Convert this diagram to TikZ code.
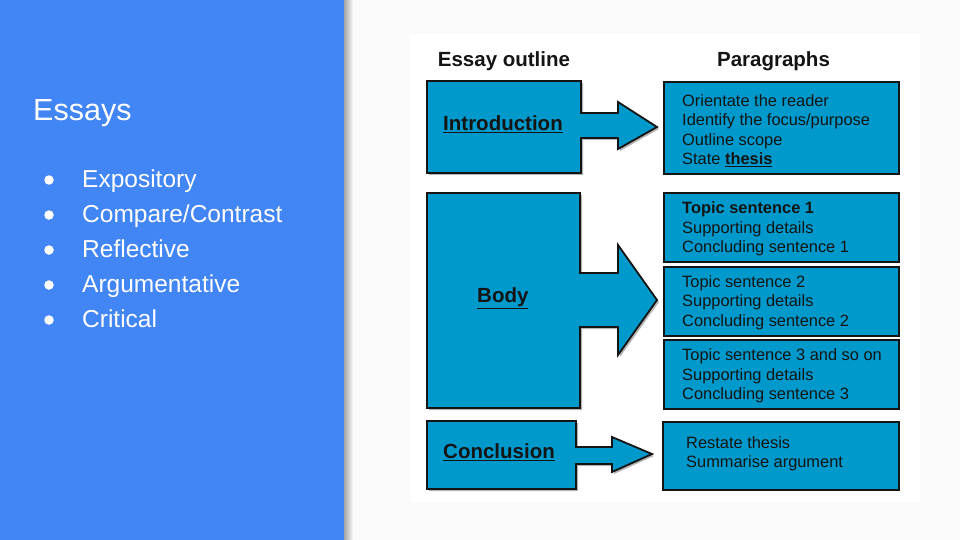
\documentclass[tikz,border=0pt]{standalone}
\usepackage{fontspec}
\setmainfont{Liberation Sans}
\newcommand{\myul}[1]{\leavevmode\vtop{\hbox{#1}\kern1.3pt\hrule height 1.3pt}}
\definecolor{panel}{HTML}{4285F4}
\definecolor{bg}{HTML}{FAFAFA}
\definecolor{boxfill}{HTML}{0099CC}
\definecolor{ink}{HTML}{141414}
\definecolor{shad}{HTML}{B4B4B4}
\begin{document}
\begin{tikzpicture}[x=1pt,y=-1pt,
  outl/.style={fill=boxfill, draw=ink, line width=1.8pt, line join=miter},
  shd/.style={fill=shad, draw=none},
  pbox/.style={outl, anchor=north west, inner sep=0pt},
  para/.style={anchor=north west, inner sep=0pt, align=left, text=ink,
    font=\fontsize{16.4}{19.5}\selectfont},
  head/.style={anchor=base, inner sep=0pt, text=ink,
    font=\bfseries\fontsize{20.5}{24}\selectfont},
  lbl/.style={anchor=base west, inner sep=0pt, text=ink,
    font=\bfseries\fontsize{20.5}{24}\selectfont},
  item/.style={anchor=base west, inner sep=0pt, text=white,
    font=\fontsize{24.5}{28}\selectfont},
  bul/.style={circle, fill=white, inner sep=0pt, minimum size=9.5pt}]
% background and panel
\fill[bg] (0,0) rectangle (960,540);
\useasboundingbox (0,0) rectangle (960,540);
\shade[left color=black!35, right color=bg] (344,0) rectangle (353,540);
\fill[panel] (0,0) rectangle (344,540);
% left panel text
\node[item, font=\fontsize{30.5}{34}\selectfont] (title) at (33,120.7) {Essays};
\foreach \t [count=\i] in {Expository, Compare/Contrast, Reflective, Argumentative, Critical}{
  \node[bul] (b\i) at (49,{180+35*(\i-1)}) {};
  \node[item] (it\i) at (82,{187+35*(\i-1)}) {\t};
}
% image area
\fill[white] (410,34) rectangle (920,503);
\node[head] (h1) at (504,66.5) {Essay outline};
\node[head] (h2) at (773.5,66.5) {Paragraphs};
% shadows
\fill[shd] (429,83) -- (583,83) -- (583,115) -- (620,115) -- (620,104) -- (659,129) -- (620,151) -- (620,140) -- (583,140) -- (583,175) -- (429,175) -- cycle;
\fill[shd] (429,195) -- (582,195) -- (582,275) -- (620,275) -- (620,247) -- (659,302) -- (620,357) -- (620,329) -- (582,329) -- (582,410) -- (429,410) -- cycle;
\fill[shd] (429,423) -- (578,423) -- (578,449) -- (614,449) -- (614,439) -- (654,456) -- (614,474) -- (614,466) -- (578,466) -- (578,491) -- (429,491) -- cycle;
\foreach \a/\b/\c/\d in {663/81/898/173, 663/192/898/261, 663/266/898/335, 663/339/898/408, 662/421/898/489}
  \fill[shd] (\a+2,\b+2) rectangle (\c+2,\d+2);
% left shapes with arrows
\draw[outl] (427,81) -- (581,81) -- (581,113) -- (618,113) -- (618,102) -- (657,127) -- (618,149) -- (618,138) -- (581,138) -- (581,173) -- (427,173) -- cycle;
\draw[outl] (427,193) -- (580,193) -- (580,273) -- (618,273) -- (618,245) -- (657,300) -- (618,355) -- (618,327) -- (580,327) -- (580,408) -- (427,408) -- cycle;
\draw[outl] (427,421) -- (576,421) -- (576,447) -- (612,447) -- (612,437) -- (652,454) -- (612,472) -- (612,464) -- (576,464) -- (576,489) -- (427,489) -- cycle;
\node[lbl] (intro) at (443,130.5) {\myul{Introduction}};
\node[lbl] (body) at (477,302.5) {\myul{Body}};
\node[lbl] (concl) at (443,458) {\myul{Conclusion}};
% right boxes
\node[pbox, minimum width=235pt, minimum height=92pt] (pi) at (663,81) {};
\node[pbox, minimum width=235pt, minimum height=69pt] (p1) at (663,192) {};
\node[pbox, minimum width=235pt, minimum height=69pt] (p2) at (663,266) {};
\node[pbox, minimum width=235pt, minimum height=69pt] (p3) at (663,339) {};
\node[pbox, minimum width=236pt, minimum height=68pt] (pc) at (662,421) {};
\node[para] (ti) at (682,94) {Orientate the reader\\Identify the focus/purpose\\Outline scope\\State \myul{\textbf{thesis}}};
\node[para] (t1) at (682,201.5) {\textbf{Topic sentence 1}\\Supporting details\\Concluding sentence 1};
\node[para] (t2) at (682,275) {Topic sentence 2\\Supporting details\\Concluding sentence 2};
\node[para] (t3) at (682,348.5) {Topic sentence 3 and so on\\Supporting details\\Concluding sentence 3};
\node[para] (tc) at (686,436) {Restate thesis\\Summarise argument};
\end{tikzpicture}
\end{document}
